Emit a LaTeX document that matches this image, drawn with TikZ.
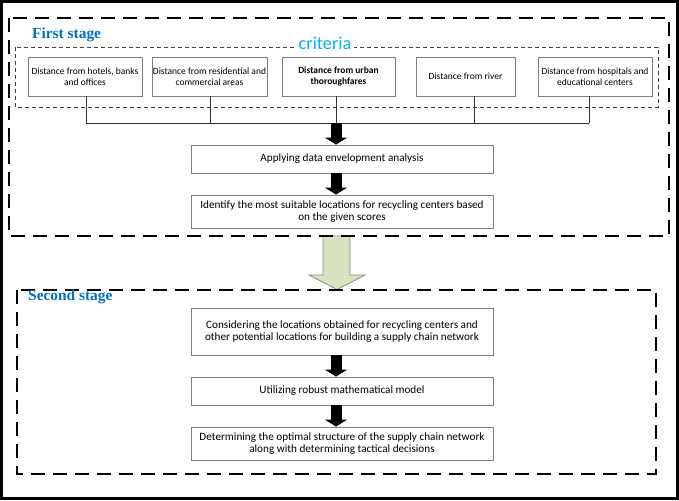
\documentclass[tikz,border=0pt]{standalone}
\usepackage{fontspec}
\setmainfont{Carlito}
\newfontfamily\stagefont{Liberation Serif}
\usetikzlibrary{arrows.meta,calc}
\definecolor{stageblue}{HTML}{0070C0}
\definecolor{critcyan}{HTML}{00B0F0}
\definecolor{boxgray}{HTML}{7F7F7F}
\definecolor{arrowgreen}{HTML}{D7E4BD}
\definecolor{arrowedge}{HTML}{8C8C8C}
\begin{document}
\begin{tikzpicture}[x=1pt,y=-1pt,
 cbox/.style={draw=boxgray, line width=0.8pt, minimum height=39pt, align=center, inner sep=1pt, font=\fontsize{9.5}{11.2}\selectfont},
 mbox/.style={draw=boxgray, line width=0.8pt, minimum width=302pt, align=center, inner sep=0pt, font=\fontsize{11.2}{12.6}\selectfont},
 stagedash/.style={line width=2.5pt, dash pattern=on 14pt off 8pt},
 critdash/.style={draw=black!75, line width=0.8pt, dash pattern=on 4pt off 3pt},
 blockarrow/.style={line width=11pt, -{Triangle[width=22pt,length=7pt]}},
 link/.style={draw=black!80, line width=0.8pt},
 stagelabel/.style={font=\stagefont\bfseries\fontsize{15.4}{18}\selectfont, text=stageblue, inner sep=0pt, anchor=west},
 greenarrow/.style={fill=arrowgreen, draw=arrowedge, line width=0.8pt, line join=miter}
]
\useasboundingbox (0,0) rectangle (679,500);
% outer frame
\draw[line width=2.5pt] (1.5,1.5) rectangle (677.5,498.5);

% stage frames
\coordinate (fsnw) at (9,18);
\coordinate (fsse) at (669,236);
\coordinate (ssnw) at (17,290);
\coordinate (ssse) at (656,474);

% green arrow between stages
\draw[greenarrow] (323,236) -- (323,275) -- (309,275) -- (337,289.5) -- (365,275) -- (350,275) -- (350,236) -- cycle;

\draw[stagedash] (fsnw) rectangle (fsse);
\draw[stagedash] (ssnw) rectangle (ssse);

\node[stagelabel] (fslabel) at (32,35) {First stage};
\node[stagelabel] (sslabel) at (28,297) {Second stage};

% criteria frame
\draw[critdash] (15,47) rectangle (658,107);
\node[fill=white, text=critcyan, inner sep=3pt, font=\fontsize{18.3}{20}\selectfont] (crit) at (325,43) {criteria};

% criteria boxes
\node[cbox, minimum width=114pt] (c1) at (85,76.5) {Distance from hotels, banks\\and offices};
\node[cbox, minimum width=113pt] (c2) at (209.5,76.5) {Distance from residential and\\commercial areas};
\node[cbox, minimum width=113pt, font=\fontsize{9.5}{11.2}\selectfont\bfseries] (c3) at (338.5,76.5) {Distance from urban\\thoroughfares};
\node[cbox, minimum width=99pt] (c4) at (465.5,76.5) {Distance from river};
\node[cbox, minimum width=114pt] (c5) at (595,76.5) {Distance from hospitals and\\educational centers};

% junction
\coordinate (j) at (336,123);
\coordinate (l1) at (86,123);
\coordinate (l2) at (210,123);
\coordinate (l4) at (474,123);
\coordinate (l5) at (589,123);
\draw[link] (l1 |- c1.south) -- (l1);
\draw[link] (l2 |- c2.south) -- (l2);
\draw[link] (j |- c3.south) -- (j);
\draw[link] (l4 |- c4.south) -- (l4);
\draw[link] (l5 |- c5.south) -- (l5);
\draw[link] (l1) -- (l5);

% first stage steps
\node[mbox, minimum height=28pt] (a1) at (342,159) {Applying data envelopment analysis};
\node[mbox, minimum height=33pt] (a2) at (342,211.5) {Identify the most suitable locations for recycling centers based\\on the given scores};

% second stage steps
\node[mbox, minimum height=47pt] (b1) at (342,331.5) {Considering the locations obtained for recycling centers and\\other potential locations for building a supply chain network};
\node[mbox, minimum height=28pt] (b2) at (342,391) {Utilizing robust mathematical model};
\node[mbox, minimum height=33pt] (b3) at (342,443.5) {Determining the optimal structure of the supply chain network\\along with determining tactical decisions};

% block arrows
\draw[blockarrow] (j) -- (j |- a1.north);
\draw[blockarrow] (j |- a1.south) -- (j |- a2.north);
\draw[blockarrow] (j |- b1.south) -- (j |- b2.north);
\draw[blockarrow] (j |- b2.south) -- (j |- b3.north);
\end{tikzpicture}
\end{document}
